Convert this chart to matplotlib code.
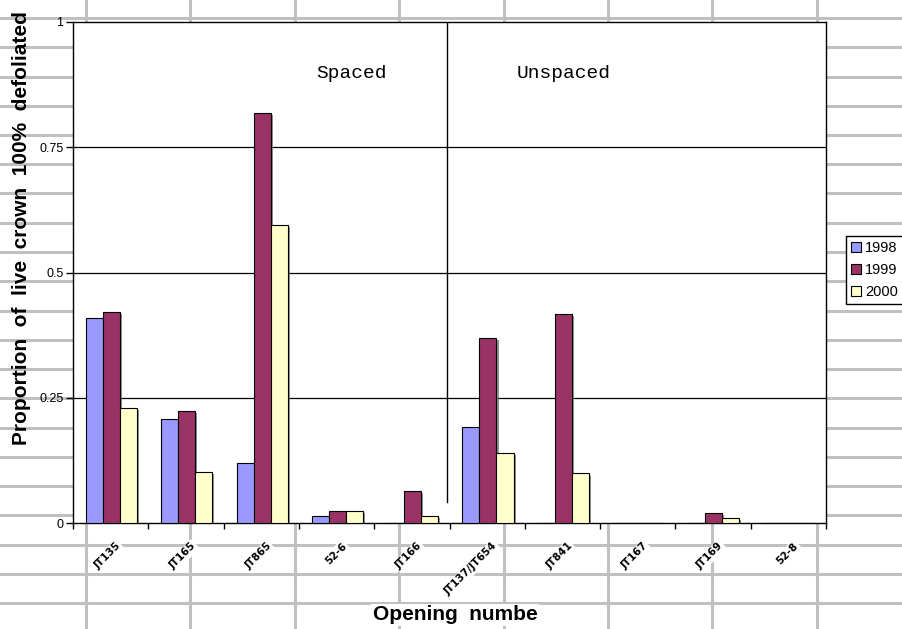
import matplotlib
matplotlib.use("Agg")
import matplotlib.pyplot as plt
import matplotlib.transforms as mtransforms
import numpy as np
from matplotlib import patheffects
from matplotlib.lines import Line2D
from matplotlib.patches import Patch

OPENINGS = ["JT135", "JT165", "JT865", "52-6", "JT166",
            "JT137/JT654", "JT841", "JT167", "JT169", "52-8"]
YEARS = ["1998", "1999", "2000"]
DEFOL_1998 = [0.409, 0.208, 0.120, 0.014, 0.0, 0.192, 0.0, 0.0, 0.0, 0.0]
DEFOL_1999 = [0.421, 0.224, 0.818, 0.024, 0.064, 0.369, 0.417, 0.0, 0.020, 0.0]
DEFOL_2000 = [0.230, 0.102, 0.595, 0.024, 0.014, 0.140, 0.100, 0.0, 0.010, 0.0]
COLORS = ["#9999ff", "#993366", "#ffffcc"]

W, H = 903, 629
fig = plt.figure(figsize=(W / 100, H / 100), dpi=100)

# spreadsheet cell lines behind the chart
cell = dict(color="#c0c0c0", linewidth=2.2, zorder=0)
for yp in np.arange(18, H + 5, 29.25):
    fig.add_artist(Line2D([0, 1], [1 - yp / H] * 2, transform=fig.transFigure, **cell))
for xp in np.arange(86, W, 104.4):
    fig.add_artist(Line2D([xp / W] * 2, [0, 1], transform=fig.transFigure, **cell))

ax = fig.add_axes([73 / W, 1 - 523 / H, (826 - 73) / W, (523 - 22) / H])
ax.set_facecolor("white")
ax.set_zorder(2)

x = np.arange(len(OPENINGS))
width = 0.226
shadow = [patheffects.SimplePatchShadow(offset=(1.5, -1.5), shadow_rgbFace="#777777", alpha=0.8),
          patheffects.Normal()]
for k, (vals, col) in enumerate(zip([DEFOL_1998, DEFOL_1999, DEFOL_2000], COLORS)):
    bars = ax.bar(x + (k - 1) * width + 0.011, vals, width, color=col,
                  edgecolor="black", linewidth=0.8, zorder=3)
    for b in bars:
        if b.get_height() > 0:
            b.set_path_effects(shadow)

ax.set_xlim(-0.5, len(OPENINGS) - 0.5)
ax.set_ylim(0, 1)
ax.set_yticks([0, 0.25, 0.5, 0.75, 1])
ax.set_yticklabels(["0", "0.25", "0.5", "0.75", "1"], fontsize=9, family="Liberation Sans")
ax.tick_params(axis="y", direction="out", length=5, width=1, pad=2)
for yv in [0.25, 0.5, 0.75]:
    ax.axhline(yv, color="black", linewidth=0.9, zorder=1)

ax.set_xticks(x)
ax.set_xticklabels(OPENINGS, rotation=45, ha="right", rotation_mode="anchor",
                   fontsize=7.5, fontweight="bold", family="DejaVu Sans")
ax.tick_params(axis="x", length=0, pad=13)
shift = mtransforms.ScaledTranslation(5 / 100, 0, fig.dpi_scale_trans)
for lab in ax.get_xticklabels():
    lab.set_bbox(dict(facecolor="white", edgecolor="none", pad=1))
    lab.set_transform(lab.get_transform() + shift)
ax.set_xticks(np.arange(-0.5, len(OPENINGS)), minor=True)
ax.tick_params(axis="x", which="minor", direction="out", length=4, width=1)

for s in ax.spines.values():
    s.set_linewidth(1)
    s.set_color("black")

# divider between spaced and unspaced openings
ax.plot([4.47, 4.47], [0.042, 1], color="black", linewidth=1, zorder=2)
ax.text(3.2, 0.898, "Spaced", family="Liberation Mono", fontsize=14, ha="center", va="center")
ax.text(6.02, 0.898, "Unspaced", family="Liberation Mono", fontsize=14, ha="center", va="center")

fig.text(22 / W, 1 - 228 / H, "Proportion  of  live  crown  100%  defoliated",
         rotation=90, ha="center", va="center", fontsize=15, fontweight="bold",
         family="Liberation Sans")
fig.text(455 / W, 1 - 615 / H, "Opening  numbe", ha="center", va="center",
         fontsize=15, fontweight="bold", family="Liberation Sans",
         bbox=dict(facecolor="white", edgecolor="none", pad=1))

handles = [Patch(facecolor=c, edgecolor="black", linewidth=0.8) for c in COLORS]
leg = fig.legend(handles, YEARS, loc="upper left", bbox_to_anchor=(846 / W, 1 - 236 / H),
                 borderaxespad=0, borderpad=0.35, handlelength=0.65, handleheight=0.65,
                 handletextpad=0.3, labelspacing=0.55, fancybox=False, framealpha=1,
                 prop=dict(family="Liberation Sans", size=10.5))
leg.get_frame().set_edgecolor("black")
leg.get_frame().set_linewidth(1)
leg.set_zorder(5)

fig.savefig("out.png", dpi=100)
